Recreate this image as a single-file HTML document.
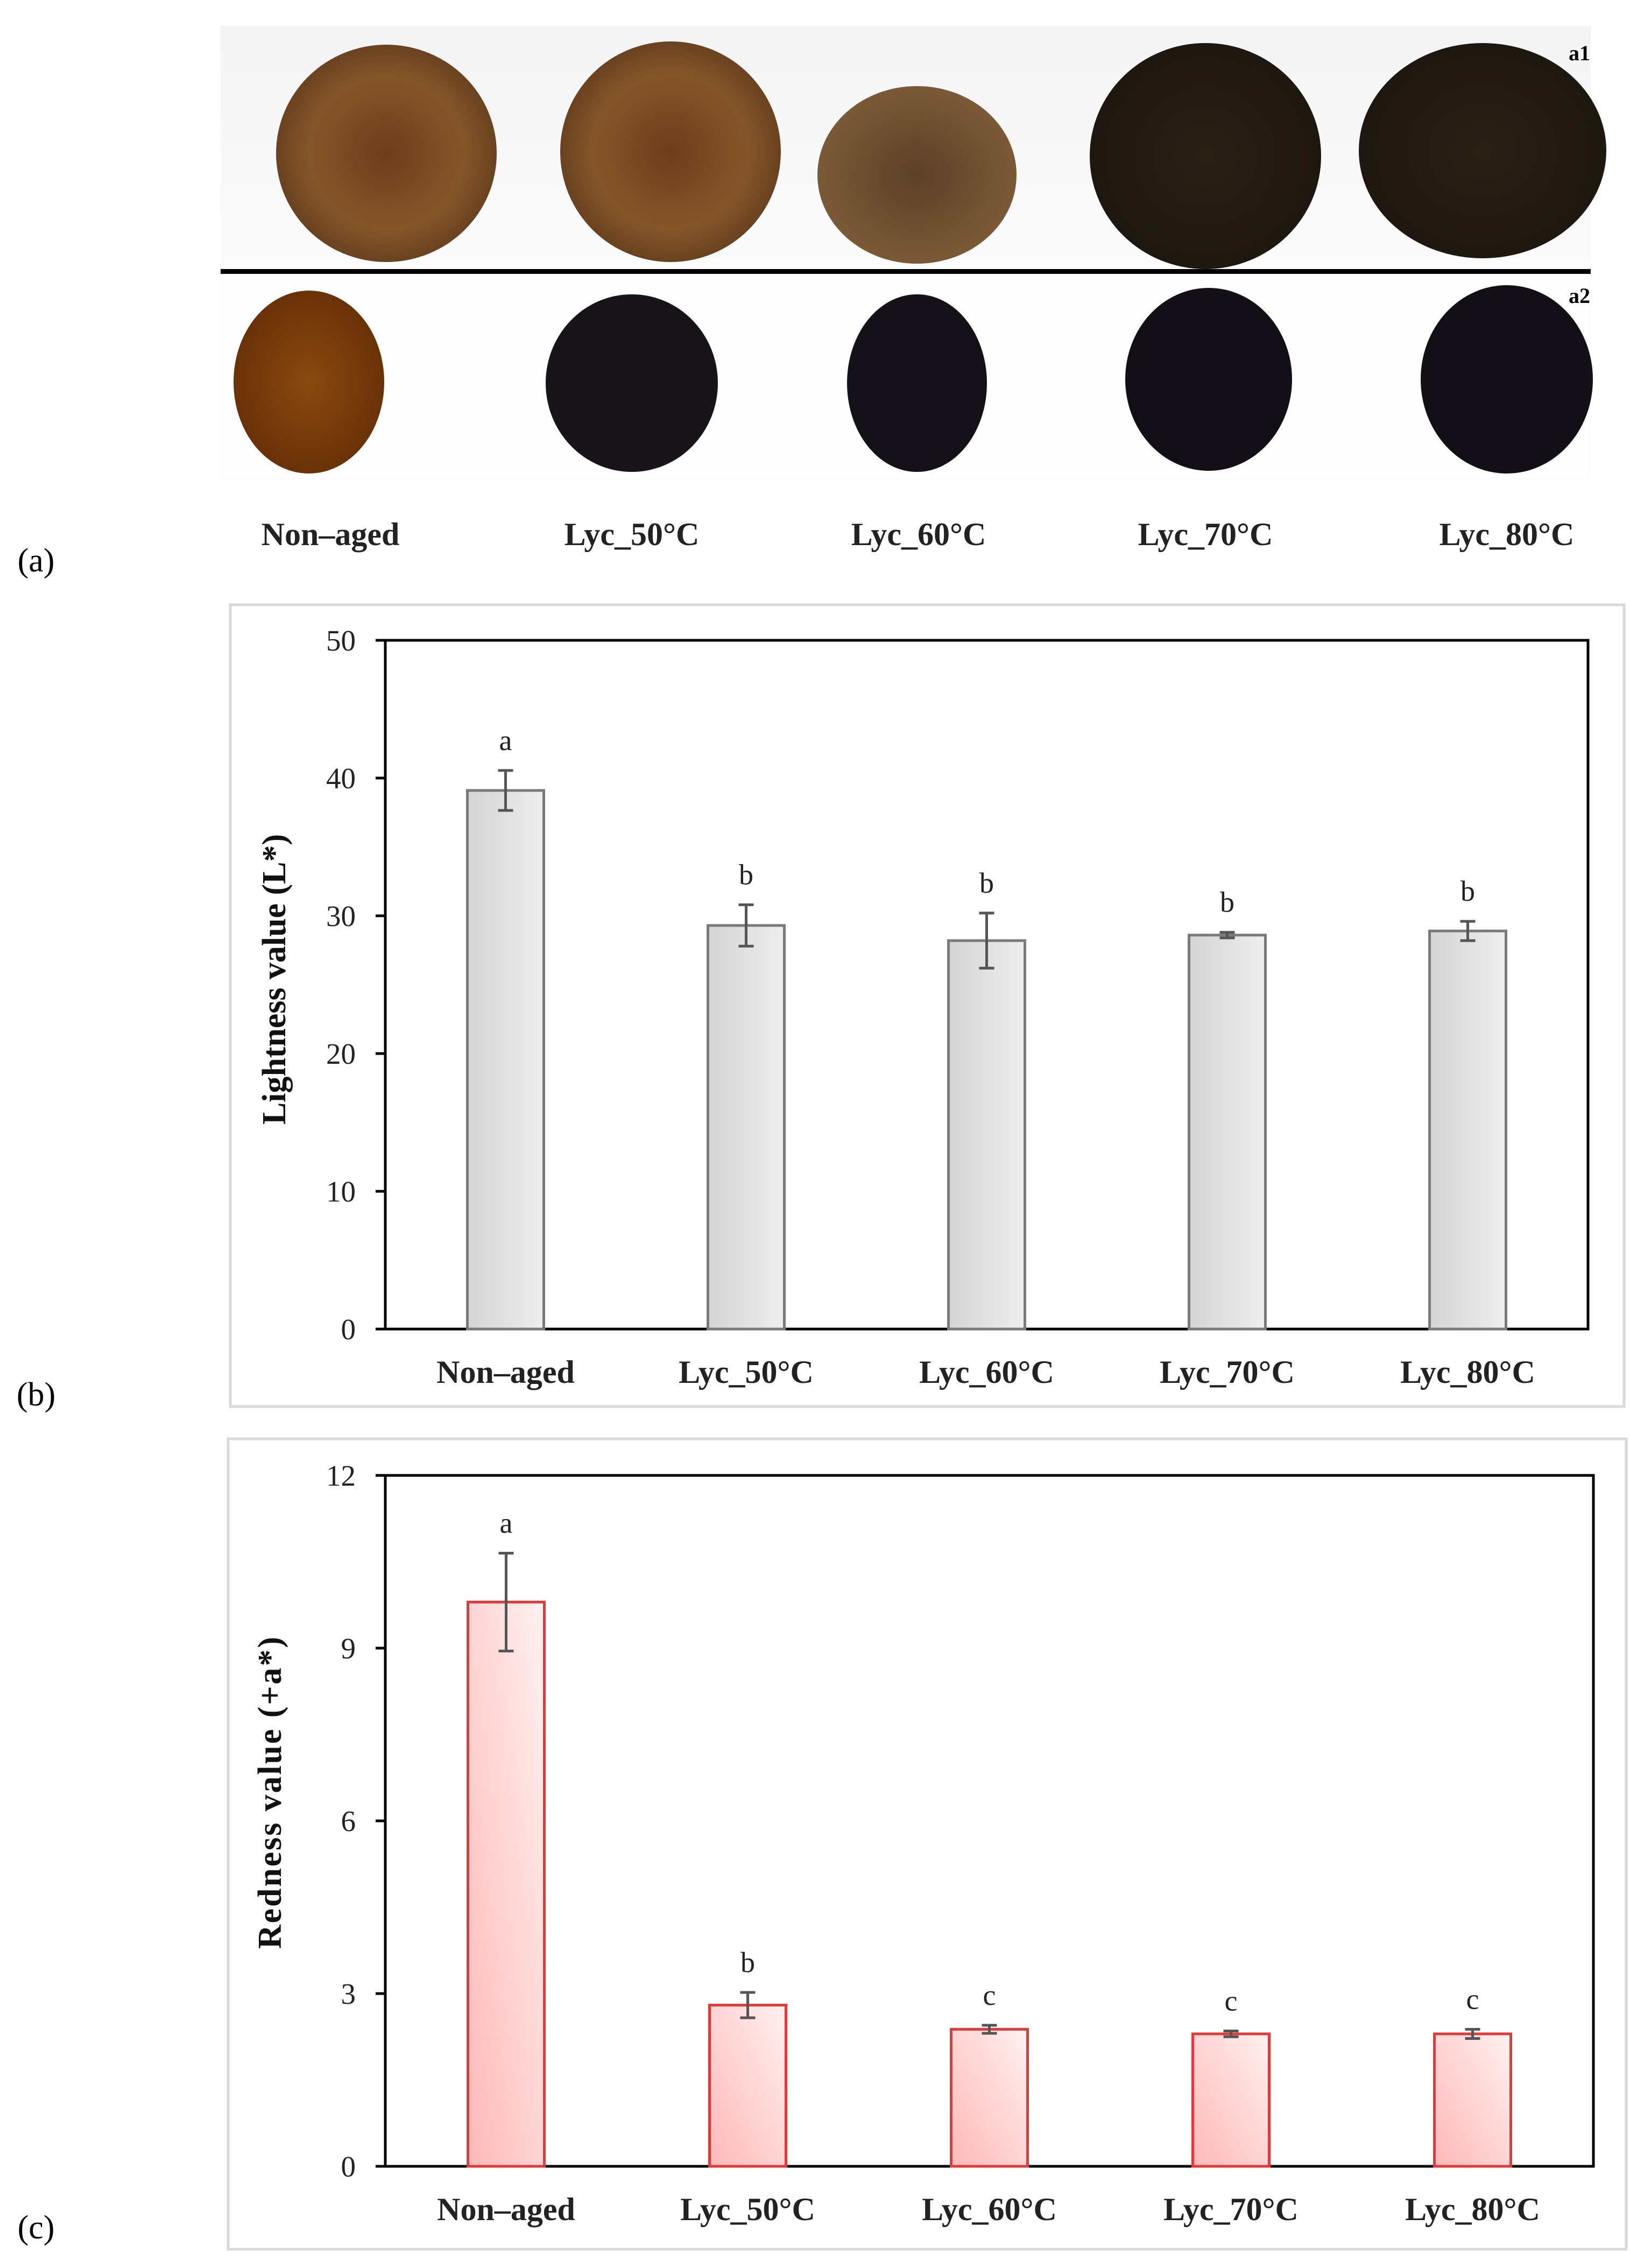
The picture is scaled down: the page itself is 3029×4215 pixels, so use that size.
<!DOCTYPE html>
<html><head><meta charset="utf-8"><style>
html,body{margin:0;padding:0;background:#fff}
svg{display:block}
text{font-family:"Liberation Serif",serif}
</style></head><body>
<svg id="fig" width="3029" height="4215" viewBox="0 0 3029 4215" xmlns="http://www.w3.org/2000/svg">
<defs>
<linearGradient id="gGrey" x1="0" x2="1" y1="0" y2="0"><stop offset="0" stop-color="#d4d4d4"/><stop offset="1" stop-color="#eeeeee"/></linearGradient>
<linearGradient id="gRed" x1="0" x2="1" y1="1" y2="0"><stop offset="0" stop-color="#ffb8b8"/><stop offset="1" stop-color="#fff0f0"/></linearGradient>
<linearGradient id="bgTop" x1="0" x2="0" y1="0" y2="1"><stop offset="0" stop-color="#f4f4f4"/><stop offset="1" stop-color="#fbfbfb"/></linearGradient>
<radialGradient id="fr1"><stop offset="0" stop-color="#6e3c1c"/><stop offset="0.7" stop-color="#85562a"/><stop offset="1" stop-color="#6a4220"/></radialGradient>
<radialGradient id="fr3"><stop offset="0" stop-color="#5c4028"/><stop offset="1" stop-color="#7a5a36"/></radialGradient>
<radialGradient id="frD"><stop offset="0" stop-color="#2a2016"/><stop offset="1" stop-color="#1e1710"/></radialGradient>
<radialGradient id="sd1"><stop offset="0" stop-color="#8a4a10"/><stop offset="1" stop-color="#6a3208"/></radialGradient>
</defs>

<g>
<rect x="410" y="48" width="2546" height="452" fill="url(#bgTop)"/>
<rect x="410" y="509" width="2546" height="383" fill="#fdfdfd"/>
<ellipse cx="718" cy="285" rx="205" ry="202" fill="url(#fr1)"/>
<ellipse cx="1246" cy="282" rx="205" ry="205" fill="url(#fr1)"/>
<ellipse cx="1704" cy="325" rx="185" ry="165" fill="url(#fr3)"/>
<ellipse cx="2240" cy="290" rx="215" ry="210" fill="url(#frD)"/>
<ellipse cx="2755" cy="280" rx="230" ry="200" fill="url(#frD)"/>
<rect x="410" y="500" width="2546" height="9" fill="#000"/>
<ellipse cx="574" cy="710" rx="140" ry="170" fill="url(#sd1)"/>
<ellipse cx="1174" cy="712" rx="160" ry="165" fill="#17141a"/>
<ellipse cx="1704" cy="712" rx="130" ry="165" fill="#141218"/>
<ellipse cx="2246" cy="705" rx="155" ry="170" fill="#121016"/>
<ellipse cx="2800" cy="705" rx="160" ry="175" fill="#121016"/>
<text x="2955" y="112" font-size="40" font-weight="bold" text-anchor="end">a1</text>
<text x="2955" y="563" font-size="40" font-weight="bold" text-anchor="end">a2</text>
</g>
<g font-size="60" font-weight="bold" text-anchor="middle" fill="#222">
<text x="614" y="1013">Non–aged</text>
<text x="1174" y="1013">Lyc_50°C</text>
<text x="1707" y="1013">Lyc_60°C</text>
<text x="2240" y="1013">Lyc_70°C</text>
<text x="2800" y="1013">Lyc_80°C</text>
</g>
<text x="67" y="1062" font-size="62" text-anchor="middle">(a)</text>
<text x="67" y="2612" font-size="62" text-anchor="middle">(b)</text>
<text x="67" y="4160" font-size="62" text-anchor="middle">(c)</text>

<rect x="428" y="1124" width="2590" height="1490" fill="none" stroke="#d9d9d9" stroke-width="5"/>
<rect x="424" y="2674" width="2598" height="1506" fill="none" stroke="#d9d9d9" stroke-width="5"/>
<g id="chartB"></g>
<g id="chartC"></g>
</svg>
<script>
const categories = ["Non–aged", "Lyc_50°C", "Lyc_60°C", "Lyc_70°C", "Lyc_80°C"];
const lightnessValues = [39.1, 29.3, 28.2, 28.6, 28.9];
const lightnessErrors = [1.45, 1.5, 2.0, 0.2, 0.7];
const lightnessLetters = ["a", "b", "b", "b", "b"];
const lightnessTicks = [0, 10, 20, 30, 40, 50];
const rednessValues = [9.8, 2.8, 2.38, 2.3, 2.3];
const rednessErrors = [0.85, 0.22, 0.07, 0.05, 0.08];
const rednessLetters = ["a", "b", "c", "c", "c"];
const rednessTicks = [0, 3, 6, 9, 12];

const NS = "http://www.w3.org/2000/svg";
function mk(parent, tag, attrs, text) {
  const e = document.createElementNS(NS, tag);
  for (const k in attrs) e.setAttribute(k, attrs[k]);
  if (text !== undefined) e.textContent = text;
  parent.appendChild(e);
  return e;
}
function drawChart(g, cfg) {
  const L = cfg.left, R = cfg.right, T = cfg.top, B = cfg.bottom;
  const yMax = cfg.ticks[cfg.ticks.length - 1];
  const yS = v => B - (v / yMax) * (B - T);
  const band = (R - L) / categories.length;
  const xS = i => L + band * (i + 0.5);
  const bw = 142;
  let e;
  e = mk(g, "rect", {x: L, y: T, width: R - L, height: B - T, fill: "none", stroke: "#000", "stroke-width": 5});
  
  
  cfg.ticks.forEach(t => {
    const y = yS(t);
    e = mk(g, "line", {x1: L - 18, x2: L, y1: y, y2: y, stroke: "#000", "stroke-width": 5});
    
    
    e = mk(g, "text", {x: L - 55, y: y + 19, "font-size": 55, "text-anchor": "end", fill: "#222"}, String(t));
    
    
  });
  categories.forEach((c, i) => {
    const cx = xS(i), v = cfg.values[i], er = cfg.errors[i];
    e = mk(g, "rect", {x: cx - bw / 2, y: yS(v), width: bw, height: B - yS(v), fill: cfg.fill, stroke: cfg.stroke, "stroke-width": 5});
    
    
    const y1 = yS(v + er), y2 = yS(v - er);
    const eg = mk(g, "g", {stroke: "#555", "stroke-width": 5});
    
    
    mk(eg, "line", {x1: cx, x2: cx, y1: y1, y2: y2});
    mk(eg, "line", {x1: cx - 14, x2: cx + 14, y1: y1, y2: y1});
    mk(eg, "line", {x1: cx - 14, x2: cx + 14, y1: y2, y2: y2});
    e = mk(g, "text", {x: cx, y: y1 - 38, "font-size": 54, "text-anchor": "middle", fill: "#222"}, cfg.letters[i]);
    
    
    e = mk(g, "text", {x: cx, y: B + 100, "font-size": 60, "font-weight": "bold", "text-anchor": "middle", fill: "#222"}, c);
    
    
  });
  e = mk(g, "text", {x: 0, y: 0, "font-size": 62, "font-weight": "bold", "text-anchor": "middle", fill: "#111",
    transform: "translate(" + cfg.titleX + "," + cfg.titleY + ") rotate(-90)", textLength: cfg.titleLen, lengthAdjust: "spacing"}, cfg.title);
  
  
}
drawChart(document.getElementById("chartB"), {
  left: 716, right: 2951, top: 1190, bottom: 2470, ticks: lightnessTicks,
  values: lightnessValues, errors: lightnessErrors, letters: lightnessLetters,
  fill: "url(#gGrey)", stroke: "#7a7a7a", title: "Lightness value (L*)",
  titleX: 530, titleY: 1820, titleLen: 540
});
drawChart(document.getElementById("chartC"), {
  left: 716, right: 2961, top: 2742, bottom: 4026, ticks: rednessTicks,
  values: rednessValues, errors: rednessErrors, letters: rednessLetters,
  fill: "url(#gRed)", stroke: "#e03a3a", title: "Redness value (+a*)",
  titleX: 522, titleY: 3332, titleLen: 580
});
</script>
</body></html>
